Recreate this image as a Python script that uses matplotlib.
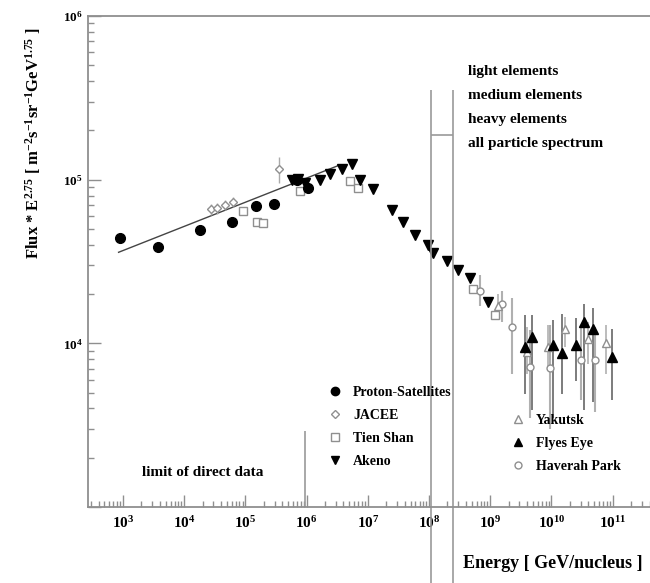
import matplotlib
matplotlib.use("Agg")
import matplotlib.pyplot as plt
from matplotlib.lines import Line2D

plt.rcParams['font.family'] = ['Liberation Serif', 'DejaVu Serif']
plt.rcParams['font.weight'] = 'bold'
plt.rcParams['mathtext.fontset'] = 'custom'
plt.rcParams['mathtext.rm'] = 'Liberation Serif:bold'
plt.rcParams['mathtext.it'] = 'Liberation Serif:italic:bold'
plt.rcParams['mathtext.bf'] = 'Liberation Serif:bold'

GRAY = '#8f8f8f'
DARK = '#444444'

# --- data (energy in GeV/nucleus, flux * E^2.75) ---
sat_x = [890, 3.7e3, 1.8e4, 6.0e4, 1.48e5, 2.95e5, 6.9e5, 1.05e6]
sat_y = [4.4e4, 3.9e4, 4.9e4, 5.5e4, 6.9e4, 7.1e4, 1.0e5, 8.9e4]

jacee_x = [2.8e4, 3.5e4, 4.6e4, 6.3e4, 3.5e5]
jacee_y = [6.6e4, 6.7e4, 7.0e4, 7.3e4, 1.17e5]
jacee_lo = [6.1e4, 6.2e4, 6.5e4, 6.8e4, 9.5e4]
jacee_hi = [7.1e4, 7.2e4, 7.5e4, 7.8e4, 1.38e5]

tien_x = [9.1e4, 1.55e5, 1.95e5, 7.8e5, 5.1e6, 6.9e6, 5.2e8, 1.2e9]
tien_y = [6.4e4, 5.5e4, 5.4e4, 8.5e4, 9.8e4, 8.9e4, 2.15e4, 1.5e4]

akeno_x = [5.8e5, 7.2e5, 9.3e5, 1.66e6, 2.4e6, 3.8e6, 5.5e6, 7.4e6, 1.23e7,
           2.5e7, 3.8e7, 5.9e7, 9.5e7, 1.17e8, 2.0e8, 3.0e8, 4.7e8, 9.1e8]
akeno_y = [1.0e5, 1.01e5, 9.5e4, 9.9e4, 1.09e5, 1.17e5, 1.25e5, 9.9e4, 8.8e4,
           6.5e4, 5.5e4, 4.6e4, 4.0e4, 3.55e4, 3.2e4, 2.8e4, 2.5e4, 1.8e4]

fly_x = [3.7e9, 4.8e9, 1.07e10, 1.5e10, 2.5e10, 3.4e10, 4.8e10, 9.8e10]
fly_y = [9.5e3, 1.1e4, 9.8e3, 8.7e3, 9.8e3, 1.35e4, 1.22e4, 8.3e3]
fly_lo = [4.9e3, 3.9e3, 3.5e3, 4.9e3, 5.9e3, 3.9e3, 4.4e3, 4.5e3]
fly_hi = [1.49e4, 1.48e4, 1.38e4, 1.51e4, 1.42e4, 1.74e4, 1.65e4, 1.23e4]

yak_x = [1.35e9, 4.0e9, 8.7e9, 1.66e10, 4.0e10, 7.8e10]
yak_y = [1.7e4, 8.9e3, 9.5e3, 1.22e4, 1.07e4, 1.0e4]
yak_lo = [1.4e4, 6.5e3, 6.8e3, 9.5e3, 7.5e3, 6.5e3]
yak_hi = [2.0e4, 1.25e4, 1.3e4, 1.45e4, 1.35e4, 1.3e4]

hav_x = [6.8e8, 1.55e9, 2.3e9, 4.5e9, 9.5e9, 3.0e10, 5.1e10]
hav_y = [2.1e4, 1.74e4, 1.26e4, 7.2e3, 7.1e3, 7.9e3, 7.9e3]
hav_lo = [1.7e4, 1.35e4, 6.5e3, 3.5e3, 3.0e3, 4.5e3, 3.8e3]
hav_hi = [2.6e4, 2.1e4, 1.9e4, 1.2e4, 1.3e4, 1.3e4, 1.25e4]

fit_x = [850, 3.5e6]
fit_y = [3.6e4, 1.23e5]

band_x = [1.07e8, 2.45e8]
direct_limit_x = 9.3e5

x_ticks = [1e3, 1e4, 1e5, 1e6, 1e7, 1e8, 1e9, 1e10, 1e11]
y_ticks = [1e3, 1e4, 1e5, 1e6]
y_ticklabels = ['', '$10^{4}$', '$10^{5}$', '$10^{6}$']

fig = plt.figure(figsize=(6.5, 5.83), dpi=100)
ax = fig.add_axes([88 / 650, 1 - 507 / 583, 1 - 88 / 650, (507 - 16) / 583])
ax.set_xscale('log')
ax.set_yscale('log')
ax.set_xlim(10 ** 2.43, 10 ** 11.61)
ax.set_ylim(1e3, 1e6)


def err(y, lo, hi):
    return [[a - b for a, b in zip(y, lo)], [b - a for a, b in zip(y, hi)]]


ax.plot(fit_x, fit_y, color=DARK, lw=1)
ax.errorbar(hav_x, hav_y, yerr=err(hav_y, hav_lo, hav_hi), fmt='o', ms=5,
            mfc='white', mec=GRAY, ecolor='#b0b0b0', elinewidth=1.5, capsize=0)
ax.errorbar(yak_x, yak_y, yerr=err(yak_y, yak_lo, yak_hi), fmt='^', ms=6,
            mfc='white', mec=GRAY, ecolor='#b0b0b0', elinewidth=1.2, capsize=0)
ax.errorbar(fly_x, fly_y, yerr=err(fly_y, fly_lo, fly_hi), fmt='^', ms=7,
            color='black', ecolor='#666666', elinewidth=1.2, capsize=0)
ax.errorbar(jacee_x, jacee_y, yerr=err(jacee_y, jacee_lo, jacee_hi), fmt='D',
            ms=4.5, mfc='white', mec=GRAY, ecolor='#aaaaaa', elinewidth=1, capsize=0)
ax.plot(tien_x, tien_y, 's', ms=6, mfc='white', mec=GRAY, ls='none')
ax.plot(sat_x, sat_y, 'o', ms=7, color='black', ls='none')
ax.plot(akeno_x, akeno_y, 'v', ms=7, color='black', ls='none')

# odd frame lines around 10^8 and the direct-data limit
ax.vlines(band_x, 10 ** 2.5, 10 ** 5.55, color='#9a9a9a', lw=1.2, clip_on=False)
ax.hlines(10 ** 5.27, band_x[0], band_x[1], color='#9a9a9a', lw=1.2)
ax.vlines(direct_limit_x, 1e3, 2.9e3, color='#9a9a9a', lw=1.2)

for s in ['left', 'bottom', 'top']:
    ax.spines[s].set_color(GRAY)
    ax.spines[s].set_linewidth(1.3)
ax.spines['right'].set_visible(False)

ax.set_xticks(x_ticks)
ax.set_yticks(y_ticks)
ax.set_yticklabels(y_ticklabels)
ax.tick_params(which='major', direction='in', length=9, width=1, color=GRAY,
               top=False, right=False)
ax.tick_params(which='minor', direction='in', length=4, width=1, color=GRAY,
               top=False, right=False)
ax.tick_params(axis='x', labelsize=11, pad=6)
ax.tick_params(axis='y', labelsize=9.5, pad=4)

fig.text(33 / 650, 1 - 143 / 583,
         r'Flux * E$^{2.75}$ [ m$^{-2}$s$^{-1}$sr$^{-1}$GeV$^{1.75}$ ]',
         rotation=90, ha='center', va='center', fontsize=12)
fig.text(463 / 650, 1 - 563 / 583, 'Energy [ GeV/nucleus ]',
         ha='left', va='center', fontsize=13)
fig.text(142 / 650, 1 - 472 / 583, 'limit of direct data',
         ha='left', va='center', fontsize=11)

for i, t in enumerate(['light elements', 'medium elements', 'heavy elements',
                       'all particle spectrum']):
    fig.text(468 / 650, 1 - (72 + 23.7 * i) / 583, t, ha='left', va='center',
             fontsize=11)

h_sat = Line2D([], [], marker='o', color='black', ls='none', ms=6)
h_jac = Line2D([], [], marker='D', mfc='white', mec=GRAY, ls='none', ms=4.5)
h_tien = Line2D([], [], marker='s', mfc='white', mec=GRAY, ls='none', ms=6)
h_ake = Line2D([], [], marker='v', color='black', ls='none', ms=6)
h_yak = Line2D([], [], marker='^', mfc='white', mec=GRAY, ls='none', ms=6)
h_fly = Line2D([], [], marker='^', color='black', ls='none', ms=6)
h_hav = Line2D([], [], marker='o', mfc='white', mec=GRAY, ls='none', ms=5)

leg_kw = dict(frameon=False, fontsize=10, handlelength=1, handletextpad=0.8,
              labelspacing=0.72, borderpad=0, borderaxespad=0, loc='upper left',
              bbox_transform=fig.transFigure)
leg1 = ax.legend([h_sat, h_jac, h_tien, h_ake],
                 ['Proton-Satellites', 'JACEE', 'Tien Shan', 'Akeno'],
                 bbox_to_anchor=(328 / 650, 1 - 386 / 583), **leg_kw)
ax.add_artist(leg1)
ax.legend([h_yak, h_fly, h_hav], ['Yakutsk', 'Flyes Eye', 'Haverah Park'],
          bbox_to_anchor=(511 / 650, 1 - 414 / 583), **leg_kw)

fig.savefig('out.png', dpi=100)
